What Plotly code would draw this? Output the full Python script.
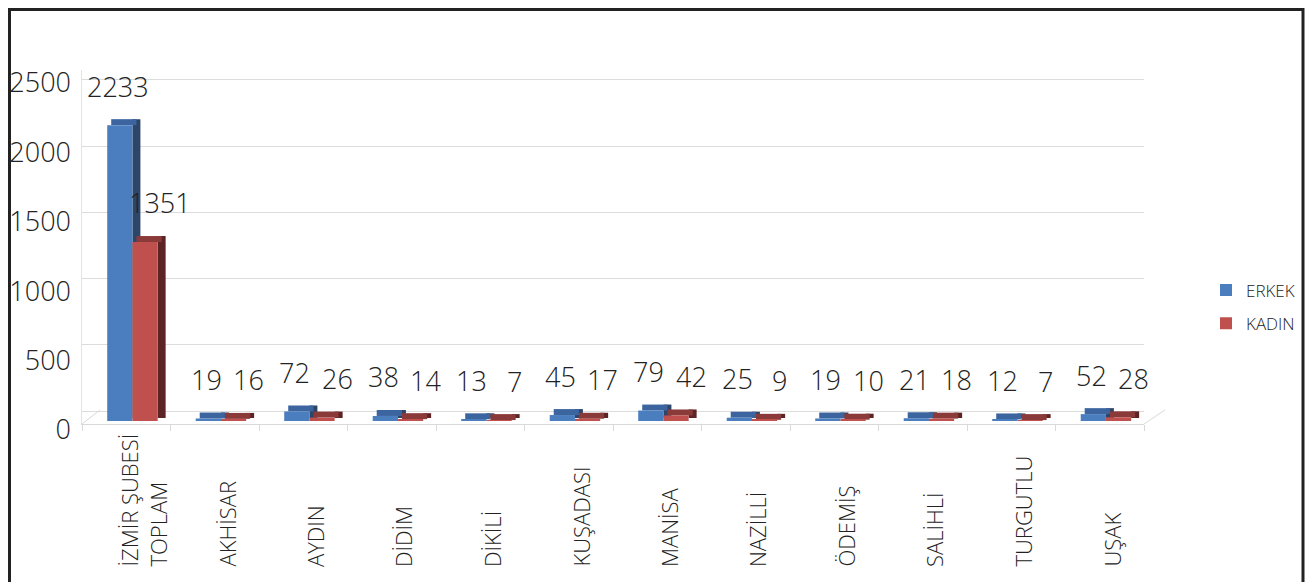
import plotly.graph_objects as go

# data
subeler = ["İZMİR ŞUBESİ<br>TOPLAM", "AKHİSAR", "AYDIN", "DİDİM", "DİKİLİ", "KUŞADASI",
           "MANİSA", "NAZİLLİ", "ÖDEMİŞ", "SALİHLİ", "TURGUTLU", "UŞAK"]
erkek = [2233, 19, 72, 38, 13, 45, 79, 25, 19, 21, 12, 52]
kadin = [1351, 16, 26, 14, 7, 17, 42, 9, 10, 18, 7, 28]
y_ticks = [0, 500, 1000, 1500, 2000, 2500]

# page is 1313x582 but the html body adds an 8px margin
OFF = 8
W, H = 1313 - OFF, 582 - OFF
L, R, T, B = 82 - OFF, 169, 70 - OFF, 158
FONT = "Open Sans"

# fake 3d look: front face + top face + side face per series
DX = 0.09      # depth in category units
DY = 45        # depth in value units
BW = 0.285     # bar width
PX = 0.1325    # pixels per value unit on the bar axis

series = [
    ("ERKEK", erkek, -0.215, "#4a7ebf", "#3c65a0", "#2d4569"),
    ("KADIN", kadin, 0.07, "#c0504d", "#8b3a3a", "#5c2424"),
]

fig = go.Figure()
for name, vals, off, c_front, c_top, c_side in series:
    fig.add_trace(go.Bar(x=subeler, y=[v + DY / 2 for v in vals], base=DY / 2,
                         offset=off + BW, width=DX, marker=dict(color=c_side, line_width=0),
                         legendgroup=name, showlegend=False, hoverinfo="skip"))
    fig.add_trace(go.Bar(x=subeler, y=[DY] * len(vals), base=vals,
                         offset=off + DX / 2, width=BW, marker=dict(color=c_top, line_width=0),
                         legendgroup=name, showlegend=False, hoverinfo="skip"))
    fig.add_trace(go.Bar(x=subeler, y=vals, name=name, offset=off, width=BW,
                         marker=dict(color=c_front, line_width=0), legendgroup=name))

# invisible traces so the back-wall grid axis and the label axis get drawn
for ax in ["y2", "y3"]:
    fig.add_trace(go.Scatter(x=subeler, y=erkek, yaxis=ax, mode="markers",
                             marker=dict(opacity=0), showlegend=False, hoverinfo="skip"))

# data labels
for name, vals, off, *_ in series:
    shift = -2 if name == "ERKEK" else 15
    for s, v in zip(subeler, vals):
        fig.add_annotation(x=s, y=v, xref="x", yref="y", text=str(v), showarrow=False,
                           xshift=shift + (off + BW / 2) * 88.5, yshift=39,
                           font=dict(family=FONT, size=27, color="#222", weight=300))

# category labels, bottom aligned like the original
for s in subeler:
    fig.add_annotation(x=s, y=-0.409, xref="x", yref="paper", text=s, textangle=-90,
                       showarrow=False, yanchor="bottom", align="left",
                       xshift=12 if "<br>" not in s else 17,
                       font=dict(family=FONT, size=22, color="#222", weight=300))


def px_x(p):
    return (p - OFF - L) / (W - L - R)


def px_y(p):
    return (H - B - (p - OFF)) / (H - T - B)


shapes = [
    # outer frame
    dict(type="rect", xref="paper", yref="paper", x0=px_x(9.5), x1=px_x(1303),
         y0=px_y(600), y1=px_y(9.5), line=dict(color="#222", width=3)),
    # floor edges
    dict(type="line", xref="paper", yref="paper", x0=px_x(82), y0=px_y(424),
         x1=px_x(100), y1=px_y(410), line=dict(color="#d9d9d9", width=1)),
    dict(type="line", xref="paper", yref="paper", x0=px_x(1144), y0=px_y(424),
         x1=px_x(1165), y1=px_y(410), line=dict(color="#d9d9d9", width=1)),
]

top_val = (421 - 70) / PX          # bar axis: 0 sits 3px above the floor edge
grid_shift = 10 / PX               # back wall grid sits 10px higher
lab_px = 347 / 2500                # tick labels are spread a bit wider

fig.update_layout(
    width=W, height=H,
    margin=dict(l=L, r=R, t=T, b=B, autoexpand=False),
    plot_bgcolor="white", paper_bgcolor="white",
    barmode="overlay",
    font=dict(family=FONT, color="#222"),
    shapes=shapes,
    legend=dict(x=px_x(1206), y=px_y(307), xanchor="left", yanchor="middle",
                font=dict(family=FONT, size=17, color="#222", weight=300), tracegroupgap=8),
    xaxis=dict(showticklabels=False, showgrid=False, ticks="outside", tickson="boundaries",
               ticklen=6, tickcolor="#d9d9d9", showline=True, linecolor="#d9d9d9",
               zeroline=False, range=[-0.5, 11.5], automargin=False),
    yaxis=dict(range=[-3 / PX, top_val], showgrid=False, zeroline=False,
               showticklabels=False, showline=True, linecolor="#e3e3e3",
               automargin=False),
    yaxis2=dict(overlaying="y", range=[-3 / PX - grid_shift, top_val - grid_shift],
                tickvals=y_ticks, showgrid=True, gridcolor="#dcdcdc",
                showticklabels=False, zeroline=False, automargin=False),
    yaxis3=dict(overlaying="y", side="left", range=[-1, (424 - 70) / lab_px],
                tickvals=y_ticks, showgrid=False, zeroline=False,
                tickfont=dict(family=FONT, size=27, color="#222", weight=300),
                ticklabelshift=6, ticklabelstandoff=10, automargin=False),
)

fig.write_html("out.html")
